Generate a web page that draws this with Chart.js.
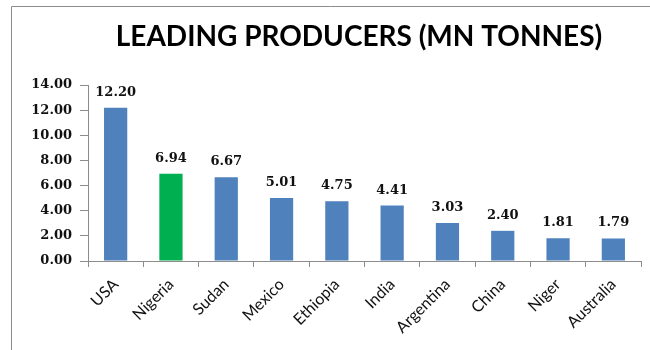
<!DOCTYPE html>
<html>
<head>
<meta charset="utf-8">
<script src="https://cdn.jsdelivr.net/npm/chart.js@4"></script>
<style>
  html, body { margin: 0; padding: 0; background: #fff; }
  #wrap { width: 650px; height: 350px; }
</style>
</head>
<body>
<div id="wrap"><canvas id="myChart" width="650" height="350"></canvas></div>
<script>
const countries = ["USA", "Nigeria", "Sudan", "Mexico", "Ethiopia", "India", "Argentina", "China", "Niger", "Australia"];
const production = [12.20, 6.94, 6.67, 5.01, 4.75, 4.41, 3.03, 2.40, 1.81, 1.79];
const barColors = ["#4F81BD", "#00B050", "#4F81BD", "#4F81BD", "#4F81BD", "#4F81BD", "#4F81BD", "#4F81BD", "#4F81BD", "#4F81BD"];
const titleText = "LEADING PRODUCERS (MN TONNES)";

// frame lines + title
const frameAndTitle = {
  id: "frameAndTitle",
  beforeDraw(chart) {
    const c = chart.ctx;
    c.save();
    c.strokeStyle = "#8c8c8c";
    c.lineWidth = 1;
    c.beginPath();
    c.moveTo(11.5, 350);
    c.lineTo(11.5, 6.5);
    c.lineTo(650, 6.5);
    c.stroke();
    c.fillStyle = "#000";
    c.font = "bold 28px Lato";
    c.textAlign = "center";
    c.textBaseline = "middle";
    c.fillText(titleText, 359, 37);
    c.restore();
  }
};

// value labels above bars
const valueLabels = {
  id: "valueLabels",
  afterDatasetsDraw(chart) {
    const c = chart.ctx;
    const meta = chart.getDatasetMeta(0);
    c.save();
    c.fillStyle = "#111";
    c.font = "bold 13px 'DejaVu Serif'";
    c.textAlign = "center";
    c.textBaseline = "alphabetic";
    meta.data.forEach((bar, i) => {
      c.fillText(production[i].toFixed(2), bar.x, bar.y - 12);
    });
    c.restore();
  }
};

const ctx = document.getElementById("myChart").getContext("2d");
const chart = new Chart(ctx, {
  type: "bar",
  data: {
    labels: countries,
    datasets: [{
      data: production,
      backgroundColor: barColors,
      barPercentage: 0.42,
      categoryPercentage: 1.0
    }]
  },
  options: {
    responsive: false,
    animation: false,
    layout: { padding: { left: 12, top: 85, right: 9, bottom: 0 } },
    plugins: {
      legend: { display: false },
      title: { display: false },
      tooltip: { enabled: false }
    },
    scales: {
      x: {
        offset: true,
        afterFit(scale) { scale.height = 89; },
        grid: {
          offset: true,
          drawOnChartArea: false,
          drawTicks: true,
          tickLength: 6,
          color: "#8c8c8c"
        },
        border: { color: "#8c8c8c" },
        ticks: {
          maxRotation: 45,
          minRotation: 45,
          color: "#111",
          font: { family: "Lato", size: 16 },
          padding: 8
        }
      },
      y: {
        min: 0,
        max: 14,
        afterFit(scale) { scale.width = 76; },
        grid: {
          drawOnChartArea: false,
          drawTicks: true,
          tickLength: 8,
          color: "#8c8c8c"
        },
        border: { color: "#8c8c8c" },
        ticks: {
          stepSize: 2,
          color: "#111",
          padding: 8,
          font: { family: "DejaVu Serif", size: 13, weight: "bold" },
          callback: (v) => Number(v).toFixed(2)
        }
      }
    }
  },
  plugins: [frameAndTitle, valueLabels]
});
</script>
</body>
</html>
